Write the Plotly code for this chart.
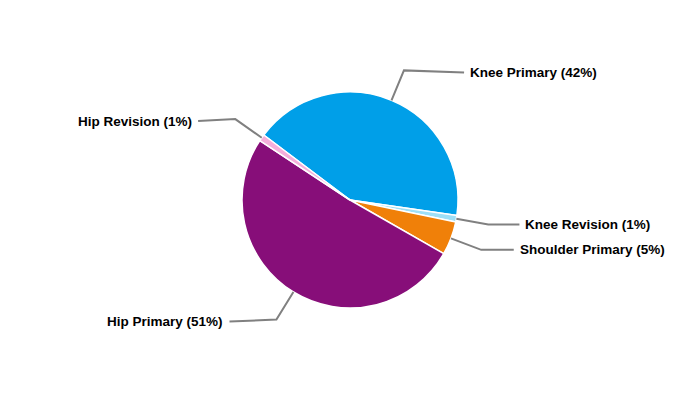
import math
import plotly.graph_objects as go

labels = ["Knee Primary", "Knee Revision", "Shoulder Primary", "Hip Primary", "Hip Revision"]
values = [42, 1, 5, 51, 1]
colors = ["#009FE8", "#9EDFF6", "#F08009", "#870E79", "#F4AEDB"]

W, H = 700, 400
OFF = 8  # default page body margin
cx, cy, r = 350 - OFF, 200 - OFF, 108
rotation = 307  # start angle, clockwise from 12 o'clock

fig = go.Figure(go.Pie(
    labels=labels, values=values, sort=False, direction="clockwise",
    rotation=rotation, marker=dict(colors=colors, line=dict(color="white", width=1.5)),
    textinfo="none", hoverinfo="label+percent", showlegend=False,
    domain=dict(x=[0, 2 * cx / W], y=[(H - cy - r) / H, (H - cy + r) / H]),
))

def px(x):
    return x / W

def py(y):
    return 1 - y / H

total = sum(values)
shapes, annotations = [], []
acc = 0.0
for lab, v in zip(labels, values):
    mid = math.radians(rotation + (acc + v / 2) / total * 360)
    acc += v
    sx, sy = cx + r * math.sin(mid), cy - r * math.cos(mid)
    ex, ey = cx + 1.3 * r * math.sin(mid), cy - 1.3 * r * math.cos(mid)
    ly = ey + (2 if abs(math.cos(mid)) > 0.5 else 0)
    R = 1.585 * r
    right = math.sin(mid) >= 0
    dy = ly - cy
    dx = math.sqrt(max(R * R - dy * dy, 0))
    lx = cx + dx if right else cx - dx
    if right:
        lx = max(lx, ex + 28)
    else:
        lx = min(lx, ex - 28)
    shapes.append(dict(type="path", xref="paper", yref="paper",
                       path=f"M {px(sx)},{py(sy)} L {px(ex)},{py(ey)} L {px(lx)},{py(ly)}",
                       line=dict(color="#808080", width=2)))
    pct = round(v / total * 100)
    annotations.append(dict(xref="paper", yref="paper", x=px(lx + (4 if right else -4)), y=py(ly),
                            text=f"<b>{lab} ({pct}%)</b>", showarrow=False,
                            xanchor="left" if right else "right", yanchor="middle",
                            font=dict(family="Liberation Sans, Arial", size=13.5, color="#000000")))

fig.update_layout(width=W, height=H, margin=dict(l=0, r=0, t=0, b=0),
                  paper_bgcolor="white", plot_bgcolor="white",
                  shapes=shapes, annotations=annotations)
fig.write_html("out.html")
